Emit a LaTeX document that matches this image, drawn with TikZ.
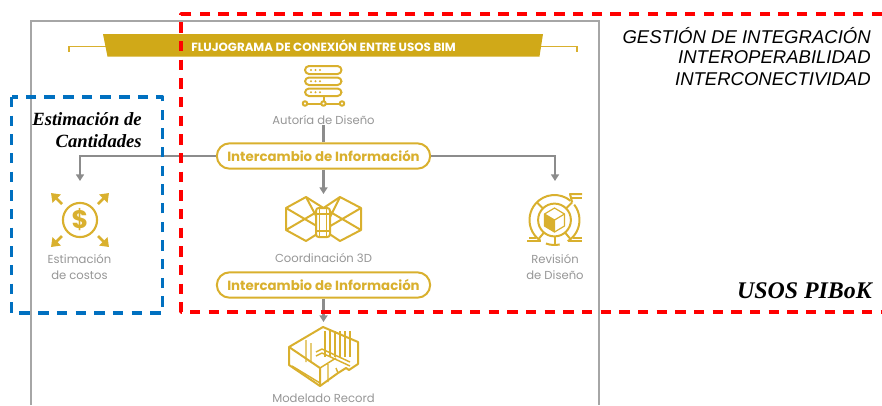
\documentclass[tikz,border=0pt]{standalone}
\usepackage{fontspec}
\usepackage{xcolor}
\usetikzlibrary{arrows.meta}
\newfontfamily\bimfont{Poppins}
\newfontfamily\notefont{Liberation Sans}
\newfontfamily\titlefont{Liberation Serif}
\definecolor{bimgold}{RGB}{208,169,24}
\definecolor{icongold}{RGB}{217,176,46}
\definecolor{labelgray}{RGB}{150,150,150}
\definecolor{linkgray}{RGB}{140,140,140}
\definecolor{framegray}{RGB}{166,166,166}
\definecolor{pibokred}{RGB}{255,0,0}
\definecolor{cantblue}{RGB}{0,112,192}
\tikzset{
    icono/.style={icongold, line width=1.5pt, line join=round},
    etiqueta/.style={labelgray, font=\bimfont\fontsize{8.7}{10}\selectfont, inner sep=0pt},
    intercambio/.style={draw=icongold, line width=1.5pt, rounded corners=9.5pt, fill=white,
        minimum width=160pt, minimum height=19pt, inner sep=0pt,
        font=\bimfont\bfseries\fontsize{10}{11}\selectfont, text=icongold},
    enlace/.style={linkgray, line width=2.2pt},
    flecha/.style={enlace, -{Triangle[width=6pt,length=5pt]}},
    nota/.style={black, font=\notefont\itshape\fontsize{13.9}{16}\selectfont, anchor=east, inner sep=0pt},
    titulo/.style={black, font=\titlefont\bfseries\itshape, anchor=east, inner sep=0pt},
    corte/.style={line width=2.6pt, dash pattern=on 7.8pt off 6.2pt, line join=round}
}
\begin{document}
\begin{tikzpicture}[x=0.75pt, y=-0.75pt]
    \useasboundingbox (0,0) rectangle (882,405);

    % Outer frame
    \draw[framegray, line width=1.4pt] (31,405) -- (31,21) -- (599,21) -- (599,405);

    % Banner
    \draw[icongold, line width=1.1pt] (69,52) -- (69,46.5) -- (577,46.5) -- (577,52);
    \fill[bimgold] (103,34) -- (543,34) -- (539.5,56.5) -- (107.5,56.5) -- cycle;
    \node[white, font=\bimfont\bfseries\fontsize{8.9}{10}\selectfont, inner sep=0pt] (banner) at (323.5,46) {FLUJOGRAMA DE CONEXIÓN ENTRE USOS BIM};

    % Labels and exchange boxes
    \node[etiqueta] (autoria) at (323.5,120) {Autoría de Diseño};
    \node[intercambio] (inter1) at (323.5,156) {Intercambio de Información};
    \node[etiqueta] (coord) at (323.5,258) {Coordinación 3D};
    \node[intercambio] (inter2) at (323.5,285) {Intercambio de Información};
    \node[etiqueta] (record) at (323.5,398.5) {Modelado Record};
    \node[etiqueta, align=center] (costos) at (79.5,267) {Estimación\\[1.6pt]de costos};
    \node[etiqueta, align=center] (revision) at (555,267) {Revisión\\[1.6pt]de Diseño};

    % Arrow ends above the icons
    \coordinate (topcostos) at (80,181);
    \coordinate (toprevision) at (555,181);
    \coordinate (topcoord) at (323.5,194);
    \coordinate (toprecord) at (323.5,322);

    % Connectors
    \draw[enlace] (autoria.south) -- (inter1.north);
    \draw[flecha] (inter1.west) -| (topcostos);
    \draw[flecha] (inter1.east) -| (toprevision);
    \draw[flecha] (inter1.south) -- (topcoord);
    \draw[flecha] (inter2.south) -- (toprecord);

    % Server icon
    \draw[icono, rounded corners=3pt] (305,66) rectangle (341.5,74);
    \draw[icono, rounded corners=3pt] (305,77.5) rectangle (341.5,85);
    \draw[icono, rounded corners=3pt] (305,88.5) rectangle (341.5,96);
    \foreach \y in {70,81.2,92.2}
        \foreach \x in {311,315.5,320}
            \fill[icongold] (\x,\y) circle (0.9pt);
    \draw[icono] (323.5,96) -- (323.5,103.5);
    \draw[icono] (305,103.5) -- (342,103.5);
    \foreach \x in {305,323.5,342}
        \draw[icono, fill=white] (\x,103.5) circle (1.7pt);

    % Cost icon
    \draw[icono, line width=1.6pt] (80,220) circle (12.8pt);
    \node[icongold, font=\bimfont\bfseries\fontsize{19}{19}\selectfont, inner sep=0pt] (dolar) at (80,220) {\$};
    \draw[icono, line width=2pt, -{Triangle[width=8.5pt,length=6pt]}] (62,204) -- (51,193);
    \draw[icono, line width=2pt, -{Triangle[width=8.5pt,length=6pt]}] (98,204) -- (109,193);
    \draw[icono, line width=2pt, -{Triangle[width=8.5pt,length=6pt]}] (62,236) -- (51,247);
    \draw[icono, line width=2pt, -{Triangle[width=8.5pt,length=6pt]}] (98,236) -- (109,247);

    % Coordination icon
    \draw[icono] (286,208) -- (306,197) -- (323.5,208) -- (340,197) -- (361,208) -- (361,230) -- (340,241) -- (323.5,230) -- (306,241) -- (286,230) -- cycle;
    \draw[icono] (323.5,208) -- (323.5,230);
    \draw[icono] (286,208) -- (323.5,230) (306,197) -- (323.5,230) (286,230) -- (323.5,208);
    \draw[icono] (361,208) -- (323.5,230) (340,197) -- (323.5,230) (361,230) -- (323.5,208);
    \draw[icono, fill=white, rounded corners=2pt] (316,208) rectangle (330,237);
    \draw[icono, line width=0.9pt] (319.5,208) -- (319.5,237) (326.5,208) -- (326.5,237) (316,214) -- (330,214) (316,231) -- (330,231);

    % Review icon
    \coordinate (rev) at (554.5,220);
    \draw[icono] ([shift={(50:18.75pt)}]rev) arc (50:235:18.75pt);
    \draw[icono] ([shift={(-58:18.75pt)}]rev) arc (-58:38:18.75pt);
    \draw[icono] ([shift={(250:18.75pt)}]rev) arc (250:282:18.75pt);
    \draw[icono] (rev) circle (12.3pt);
    \foreach \ang in {135,45,-90,-130,-50}
        \draw[icono] ([shift={(\ang:12.3pt)}]rev) -- ([shift={(\ang:18.75pt)}]rev);
    \draw[icono] ([shift={(45:18.75pt)}]rev) -- (570,194) -- (582,194);
    \draw[icono] (527,241) -- (541,241);
    \draw[icono] (568,241) -- (582,241);
    \draw[icono] (571,198) -- (582,198) (529,238) -- (536,238) (573,238) -- (582,238);
    \fill[icongold] (554.5,220) -- (554.5,232) -- (544.5,226) -- (544.5,214) -- cycle;
    \draw[icono, line width=0.9pt] (554.5,208) -- (564.5,214) -- (564.5,226) -- (554.5,232) -- (544.5,226) -- (544.5,214) -- cycle;
    \draw[icono, line width=0.9pt] (544.5,214) -- (554.5,220) -- (564.5,214) (554.5,220) -- (554.5,232);

    % Record icon
    \draw[icono] (289,347) -- (323,327) -- (358,342) -- (358,364) -- (349,370) -- (346,368) -- (338,373) -- (320,386) -- (289,365) -- cycle;
    \draw[icono] (289,347) -- (320,368) -- (320,386);
    \draw[icono, line width=1.1pt] (292,366) -- (320,383) (306,340) -- (306,362) (311,343) -- (311,362);
    \draw[icono, line width=1.1pt] (316,352) -- (322,349) -- (350,362) (316,356) -- (322,353) -- (350,366);
    \draw[icono, line width=1.1pt] (320,368) -- (336,358) (328,364) -- (328,382) (336,368) -- (338,373);
    \foreach \x in {325,330,335,340,345,350}
        \draw[icono, line width=1.1pt] (\x,331) -- (\x,357);

    % Notes
    \node[nota] (gestion) at (871,36) {GESTIÓN DE INTEGRACIÓN};
    \node[nota] (interop) at (871,57) {INTEROPERABILIDAD};
    \node[nota] (interco) at (871,79) {INTERCONECTIVIDAD};
    \node[titulo, font=\titlefont\bfseries\itshape\fontsize{17.9}{20}\selectfont] (usos) at (872,291) {USOS PIBoK};
    \node[titulo, font=\titlefont\bfseries\itshape\fontsize{14}{16}\selectfont] (estim) at (142,119) {Estimación de};
    \node[titulo, font=\titlefont\bfseries\itshape\fontsize{14}{16}\selectfont] (cant) at (142,141) {Cantidades};

    % Dashed boxes
    \draw[corte, pibokred] (882,14) -- (181,14) -- (181,312) -- (882,312);
    \draw[corte, cantblue] (11.5,97) rectangle (162.5,313);
\end{tikzpicture}
\end{document}
